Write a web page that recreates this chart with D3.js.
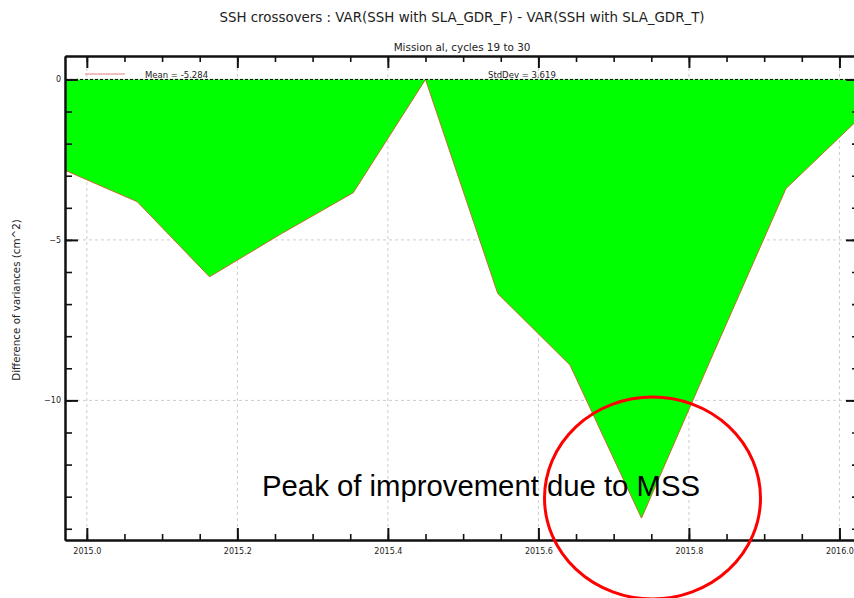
<!DOCTYPE html>
<meta charset="utf-8">
<title>SSH crossovers variance difference</title>
<style>
body { margin:0; background:#fff; }
svg text { font-family: "DejaVu Sans", sans-serif; fill:#222; }
.axis path { stroke:#111; stroke-width:2px; }
.axis line { stroke:#111; stroke-width:2px; }
.minor line { stroke-width:1.6px; }
.grid line { stroke:#ccc; stroke-dasharray:3,3; stroke-width:1px; }
.note { font-family: "Liberation Sans", Arial, sans-serif; fill:#000; }
</style>
<body>
<div id="chart"></div>
<script src="https://d3js.org/d3.v7.min.js"></script>
<script>
// cycle dates (decimal year) and variance difference (cm^2), cycles 19..30
var years = [2014.971, 2015.067, 2015.163, 2015.259, 2015.354, 2015.450,
             2015.546, 2015.642, 2015.737, 2015.833, 2015.929, 2016.026];
var diffs = [-2.83, -3.81, -6.15, -4.80, -3.53, 0.0,
             -6.67, -8.90, -13.67, -8.51, -3.40, -1.22];
var xTickLabels = [2015.0, 2015.2, 2015.4, 2015.6, 2015.8, 2016.0];
var yTickLabels = [0, -5, -10];
var title = "SSH crossovers : VAR(SSH with SLA_GDR_F) - VAR(SSH with SLA_GDR_T)";
var subtitle = "Mission al, cycles 19 to 30";
var yLabel = "Difference of variances (cm^2)";
var meanText = "Mean = -5.284";
var stdText = "StdDev = 3.619";
var noteText = "Peak of improvement due to MSS";

var width = 854, height = 598;
var pLeft = 65, pRight = 859, pTop = 56, pBottom = 540;

var svg = d3.select("#chart").append("svg")
    .attr("width", width)
    .attr("height", height);

var x = d3.scaleLinear().domain(d3.extent(years)).range([pLeft, pRight]);
var y = d3.scaleLinear().domain([-14.35, 0.73]).range([pBottom, pTop]);

// grid
var grid = svg.append("g").attr("class", "grid");
grid.selectAll(".vg").data(xTickLabels).enter().append("line")
    .attr("x1", function(d) { return x(d); }).attr("x2", function(d) { return x(d); })
    .attr("y1", pTop).attr("y2", pBottom);
grid.selectAll(".hg").data([-5, -10]).enter().append("line")
    .attr("x1", pLeft).attr("x2", pRight)
    .attr("y1", function(d) { return y(d); }).attr("y2", function(d) { return y(d); });

// filled area between zero and the curve
var pts = years.map(function(d, i) { return [d, diffs[i]]; });
var area = d3.area()
    .x(function(d) { return x(d[0]); })
    .y0(y(0))
    .y1(function(d) { return y(d[1]); });
svg.append("path").datum(pts)
    .attr("d", area)
    .attr("fill", "#00ff00");
svg.append("path").datum(pts)
    .attr("d", d3.line().x(function(d) { return x(d[0]); }).y(function(d) { return y(d[1]); }))
    .attr("fill", "none")
    .attr("stroke", "#c0702a")
    .attr("stroke-width", 1);

// zero line
svg.append("line")
    .attr("x1", pLeft).attr("x2", pRight)
    .attr("y1", y(0)).attr("y2", y(0))
    .attr("stroke", "#000").attr("stroke-width", 1)
    .attr("stroke-dasharray", "3,2");

// axes: major + minor ticks, all inward
var xMinor = x.ticks(20), yMinor = y.ticks(15);

svg.append("g").attr("class", "axis minor").attr("transform", "translate(0," + pBottom + ")")
    .call(d3.axisBottom(x).tickValues(xMinor).tickSize(-6).tickSizeOuter(0).tickFormat(""));
svg.append("g").attr("class", "axis").attr("transform", "translate(0," + pBottom + ")")
    .call(d3.axisBottom(x).tickValues(xTickLabels).tickSize(-12).tickSizeOuter(0).tickPadding(8)
      .tickFormat(d3.format(".1f")))
    .selectAll("text").attr("font-size", 8).attr("font-family", "DejaVu Sans");

svg.append("g").attr("class", "axis minor").attr("transform", "translate(0," + pTop + ")")
    .call(d3.axisTop(x).tickValues(xMinor).tickSize(-6).tickSizeOuter(0).tickFormat(""));
svg.append("g").attr("class", "axis").attr("transform", "translate(0," + pTop + ")")
    .call(d3.axisTop(x).tickValues(xTickLabels).tickSize(-12).tickSizeOuter(0).tickFormat(""));

svg.append("g").attr("class", "axis minor").attr("transform", "translate(" + pLeft + ",0)")
    .call(d3.axisLeft(y).tickValues(yMinor).tickSize(-7).tickSizeOuter(0).tickFormat(""));
svg.append("g").attr("class", "axis").attr("transform", "translate(" + pLeft + ",0)")
    .call(d3.axisLeft(y).tickValues(yTickLabels).tickSize(-13).tickSizeOuter(0).tickPadding(4)
      .tickFormat(d3.format("d")))
    .selectAll("text").attr("font-size", 8).attr("font-family", "DejaVu Sans");

svg.append("g").attr("class", "axis minor").attr("transform", "translate(" + pRight + ",0)")
    .call(d3.axisRight(y).tickValues(yMinor).tickSize(-7).tickSizeOuter(0).tickFormat(""));
svg.append("g").attr("class", "axis").attr("transform", "translate(" + pRight + ",0)")
    .call(d3.axisRight(y).tickValues(yTickLabels).tickSize(-13).tickSizeOuter(0).tickFormat(""));

svg.selectAll(".axis .domain").attr("stroke", "#111").attr("stroke-width", 2);

// titles
svg.append("text").attr("x", 462).attr("y", 22).attr("text-anchor", "middle")
    .attr("font-size", 13.4).text(title);
svg.append("text").attr("x", 462).attr("y", 51).attr("text-anchor", "middle")
    .attr("font-size", 10.4).text(subtitle);
svg.append("text").attr("transform", "translate(20," + 300 + ")rotate(-90)")
    .attr("text-anchor", "middle").attr("font-size", 10.3).text(yLabel);

// legend
svg.append("line").attr("x1", 85).attr("x2", 125).attr("y1", 74).attr("y2", 74)
    .attr("stroke", "#e87a7a").attr("stroke-width", 1.2);
svg.append("text").attr("x", 145).attr("y", 77.5).attr("font-size", 8.5).text(meanText);
svg.append("text").attr("x", 488).attr("y", 77.5).attr("font-size", 8.5).text(stdText);

// annotation
svg.append("text").attr("class", "note").attr("x", 262).attr("y", 495.5)
    .attr("font-size", 29.3).text(noteText);
svg.append("ellipse")
    .attr("cx", 652.5).attr("cy", 498).attr("rx", 108).attr("ry", 101)
    .attr("fill", "none").attr("stroke", "#ff0000").attr("stroke-width", 3);
</script>
</body>
